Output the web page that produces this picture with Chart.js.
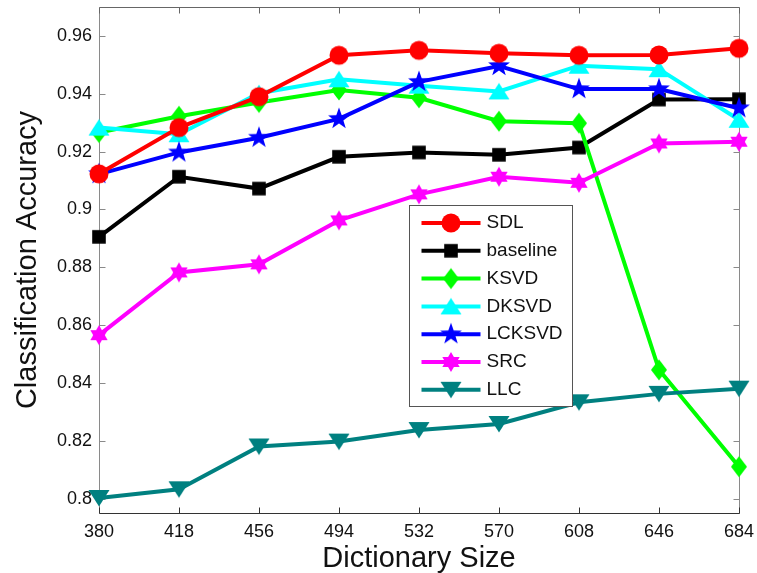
<!DOCTYPE html>
<html>
<head>
<meta charset="utf-8">
<script src="https://cdn.jsdelivr.net/npm/chart.js@4.4.1/dist/chart.umd.min.js"></script>
<style>
  html, body { margin: 0; padding: 0; background: #ffffff; }
  canvas { display: block; }
</style>
</head>
<body>
<canvas id="chart" width="757" height="573"></canvas>
<script>
// Dictionary sizes on the x axis
const dictionarySizes = ['380', '418', '456', '494', '532', '570', '608', '646', '684'];

// Y axis ticks
const yTickValues = [0.80, 0.82, 0.84, 0.86, 0.88, 0.90, 0.92, 0.94, 0.96];
const yTickLabels = ['0.8', '0.82', '0.84', '0.86', '0.88', '0.9', '0.92', '0.94', '0.96'];

// Classification accuracy per method
const seriesNames = ['SDL', 'baseline', 'KSVD', 'DKSVD', 'LCKSVD', 'SRC', 'LLC'];
const sdl      = [0.9123, 0.9283, 0.9390, 0.9533, 0.9550, 0.9540, 0.9533, 0.9534, 0.9557];
const baseline = [0.8905, 0.9113, 0.9072, 0.9182, 0.9197, 0.9189, 0.9214, 0.9380, 0.9381];
const ksvd     = [0.9266, 0.9322, 0.9370, 0.9413, 0.9386, 0.9305, 0.9298, 0.8445, 0.8110];
const dksvd    = [0.9283, 0.9260, 0.9402, 0.9450, 0.9428, 0.9408, 0.9497, 0.9485, 0.9310];
const lcksvd   = [0.9122, 0.9197, 0.9248, 0.9313, 0.9441, 0.9496, 0.9416, 0.9416, 0.9350];
const src      = [0.8565, 0.8782, 0.8810, 0.8962, 0.9052, 0.9113, 0.9092, 0.9228, 0.9234];
const llc      = [0.8002, 0.8032, 0.8180, 0.8197, 0.8237, 0.8258, 0.8333, 0.8362, 0.8380];

const FONT = "'Liberation Sans', Arial, Helvetica, sans-serif";

// Build a filled marker glyph on a small offscreen canvas
function marker(shape, color) {
  const s = 26;
  const c = document.createElement('canvas');
  c.width = s; c.height = s;
  const g = c.getContext('2d');
  g.translate(s / 2, s / 2);
  g.fillStyle = color;
  g.beginPath();
  const starPath = (n, ro, ri) => {
    for (let k = 0; k < n * 2; k++) {
      const r = k % 2 === 0 ? ro : ri;
      const a = -Math.PI / 2 + k * Math.PI / n;
      const px = r * Math.cos(a), py = r * Math.sin(a);
      if (k === 0) g.moveTo(px, py); else g.lineTo(px, py);
    }
    g.closePath();
  };
  switch (shape) {
    case 'circle':
      g.arc(0, 0, 9.5, 0, Math.PI * 2);
      break;
    case 'square':
      g.rect(-6.8, -6.8, 13.6, 13.6);
      break;
    case 'diamond':
      g.moveTo(0, -10.5); g.lineTo(8, 0); g.lineTo(0, 10.5); g.lineTo(-8, 0); g.closePath();
      break;
    case 'triUp':
      g.moveTo(0, -8.5); g.lineTo(10.5, 8); g.lineTo(-10.5, 8); g.closePath();
      break;
    case 'triDown':
      g.moveTo(0, 8.5); g.lineTo(10.5, -8); g.lineTo(-10.5, -8); g.closePath();
      break;
    case 'star5':
      starPath(5, 11.5, 4.6);
      break;
    case 'star6':
      starPath(6, 10, 5.8);
      break;
  }
  g.fill();
  return c;
}

const styles = [
  { color: '#ff0000', shape: 'circle' },
  { color: '#000000', shape: 'square' },
  { color: '#00ff00', shape: 'diamond' },
  { color: '#00ffff', shape: 'triUp' },
  { color: '#0000ff', shape: 'star5' },
  { color: '#ff00ff', shape: 'star6' },
  { color: '#008080', shape: 'triDown' }
];
// stacking: smaller order is drawn on top
const drawOrder = [0, 6, 5, 3, 2, 4, 1];
const values = [sdl, baseline, ksvd, dksvd, lcksvd, src, llc];

const datasets = seriesNames.map((name, i) => {
  const glyph = marker(styles[i].shape, styles[i].color);
  return {
    label: name,
    data: values[i],
    borderColor: styles[i].color,
    backgroundColor: styles[i].color,
    borderWidth: 4,
    tension: 0,
    pointStyle: glyph,
    pointRadius: 10,
    pointHoverRadius: 10,
    clip: false,
    order: drawOrder[i],
    glyph: glyph
  };
});

// Pin the plot rectangle so the axes box sits where it should
const plotBox = { left: 99, top: 7, right: 739, bottom: 513 };
const pinAreaPlugin = {
  id: 'pinArea',
  afterLayout(chart) {
    const a = chart.chartArea;
    Object.assign(a, plotBox);
    a.width = plotBox.right - plotBox.left;
    a.height = plotBox.bottom - plotBox.top;
    const { x, y } = chart.scales;
    y.top = plotBox.top; y.bottom = plotBox.bottom; y.height = a.height;
    y.left = 0; y.right = plotBox.left; y.width = plotBox.left;
    x.left = plotBox.left; x.right = plotBox.right; x.width = a.width;
    x.top = plotBox.bottom; x.bottom = chart.height; x.height = chart.height - plotBox.bottom;
    x.configure();
    y.configure();
  }
};

// Axes box with inward tick marks
const framePlugin = {
  id: 'frame',
  beforeDatasetsDraw(chart) {
    const { ctx, chartArea: a, scales } = chart;
    const L = Math.round(a.left) + 0.5, R = Math.round(a.right) + 0.5;
    const T = Math.round(a.top) + 0.5, B = Math.round(a.bottom) + 0.5;
    const tick = 6;
    ctx.save();
    ctx.lineWidth = 1;
    const seg = (x1, y1, x2, y2, col) => {
      ctx.strokeStyle = col;
      ctx.beginPath(); ctx.moveTo(x1, y1); ctx.lineTo(x2, y2); ctx.stroke();
    };
    seg(L, T, L, B, '#8a8a8a');
    seg(R, T, R, B, '#8a8a8a');
    seg(L, T, R, T, '#666666');
    seg(L, B, R, B, '#333333');
    scales.x.ticks.forEach((t, i) => {
      const x = Math.round(scales.x.getPixelForTick(i)) + 0.5;
      seg(x, B, x, B - tick, '#333333');
      seg(x, T, x, T + tick, '#666666');
    });
    scales.y.ticks.forEach((t) => {
      const y = Math.round(scales.y.getPixelForValue(t.value)) + 0.5;
      seg(L, y, L + tick, y, '#8a8a8a');
      seg(R, y, R - tick, y, '#8a8a8a');
    });
    ctx.restore();
  }
};

// Legend box inside the plot
const legendPlugin = {
  id: 'boxLegend',
  afterDatasetsDraw(chart) {
    const { ctx, chartArea: a } = chart;
    const bx = Math.round(a.left + 310) + 0.5, by = Math.round(a.top + 198) + 0.5;
    const bw = 163, bh = 201, rowH = 27.8;
    ctx.save();
    ctx.fillStyle = '#ffffff';
    ctx.fillRect(bx, by, bw, bh);
    ctx.strokeStyle = '#555555';
    ctx.lineWidth = 1;
    ctx.strokeRect(bx, by, bw, bh);
    chart.data.datasets.forEach((ds, i) => {
      const y = by + 17.5 + i * rowH;
      ctx.strokeStyle = ds.borderColor;
      ctx.lineWidth = 4;
      ctx.beginPath();
      ctx.moveTo(bx + 12, y); ctx.lineTo(bx + 71, y);
      ctx.stroke();
      const g = ds.glyph;
      ctx.drawImage(g, bx + 41.5 - g.width / 2, y - g.height / 2);
      ctx.fillStyle = '#111111';
      ctx.font = '19px ' + FONT;
      ctx.textAlign = 'left';
      ctx.textBaseline = 'middle';
      ctx.fillText(ds.label, bx + 77, y);
    });
    ctx.restore();
  }
};

new Chart(document.getElementById('chart'), {
  type: 'line',
  data: { labels: dictionarySizes, datasets },
  options: {
    responsive: false,
    animation: false,
    events: [],
    layout: { padding: { top: 7, right: 18, bottom: 0, left: 0 } },
    plugins: {
      legend: { display: false },
      tooltip: { enabled: false }
    },
    scales: {
      x: {
        type: 'category',
        offset: false,
        grid: { display: false, drawTicks: false },
        border: { display: false },
        ticks: {
          autoSkip: false, maxRotation: 0, padding: 8,
          color: '#111111', font: { family: FONT, size: 18 }
        },
        title: {
          display: true, text: 'Dictionary Size', color: '#111111',
          font: { family: FONT, size: 29, lineHeight: 1 },
          padding: { top: 0, bottom: 0 }
        },
        afterFit(s) { s.height = 60; s.paddingLeft = 0; s.paddingRight = 0; }
      },
      y: {
        type: 'linear',
        min: 0.795,
        max: 0.97,
        grid: { display: false, drawTicks: false },
        border: { display: false },
        afterBuildTicks(s) { s.ticks = yTickValues.map(v => ({ value: v })); },
        ticks: {
          padding: 7, color: '#111111', font: { family: FONT, size: 18 },
          callback: (v) => yTickLabels[yTickValues.indexOf(v)]
        },
        title: {
          display: true, text: 'Classification Accuracy', color: '#111111',
          font: { family: FONT, size: 29, lineHeight: 1 },
          padding: { top: 13, bottom: 0 }
        },
        afterFit(s) { s.width = 99; s.paddingTop = 0; s.paddingBottom = 0; }
      }
    }
  },
  plugins: [pinAreaPlugin, framePlugin, legendPlugin]
});
</script>
</body>
</html>
